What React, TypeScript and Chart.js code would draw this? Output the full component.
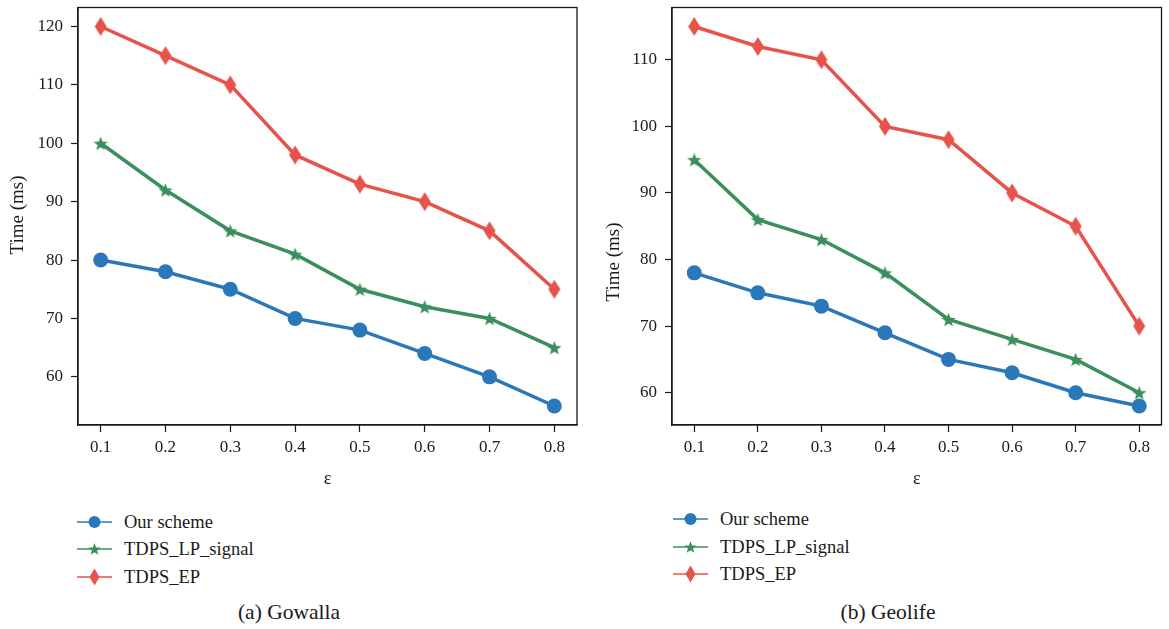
import React, { useEffect, useRef } from "react";
import { Chart, registerables } from "chart.js";

Chart.register(...registerables);

// ---------- data ----------
const epsilonValues = [0.1, 0.2, 0.3, 0.4, 0.5, 0.6, 0.7, 0.8];
const xTickValues = [0.1, 0.2, 0.3, 0.4, 0.5, 0.6, 0.7, 0.8];
const seriesNames = ["Our scheme", "TDPS_LP_signal", "TDPS_EP"];

const gowallaOurScheme = [80, 78, 75, 70, 68, 64, 60, 55];
const gowallaLPSignal = [100, 92, 85, 81, 75, 72, 70, 65];
const gowallaEP = [120, 115, 110, 98, 93, 90, 85, 75];
const gowallaYTicks = [60, 70, 80, 90, 100, 110, 120];

const geolifeOurScheme = [78, 75, 73, 69, 65, 63, 60, 58];
const geolifeLPSignal = [95, 86, 83, 78, 71, 68, 65, 60];
const geolifeEP = [115, 112, 110, 100, 98, 90, 85, 70];
const geolifeYTicks = [60, 70, 80, 90, 100, 110];

const xAxisTitle = "ε";
const yAxisTitle = "Time (ms)";
const captionGowalla = "(a) Gowalla";
const captionGeolife = "(b) Geolife";

// ---------- styles ----------
const COLORS = ["#2a78b9", "#3a8f5c", "#e5534a"];
const FONT = '"Liberation Serif", "DejaVu Serif", serif';
const INK = "#1a1a1a";

function makeStar(color: string, R: number) {
  const r = R * 0.42;
  const size = Math.ceil(2 * R + 2);
  const c = document.createElement("canvas");
  c.width = size;
  c.height = size;
  const ctx = c.getContext("2d")!;
  const cx = size / 2;
  const cy = size / 2 + R * 0.1;
  ctx.beginPath();
  for (let i = 0; i < 10; i++) {
    const rad = i % 2 === 0 ? R : r;
    const a = -Math.PI / 2 + (i * Math.PI) / 5;
    const px = cx + rad * Math.cos(a);
    const py = cy + rad * Math.sin(a);
    if (i === 0) ctx.moveTo(px, py);
    else ctx.lineTo(px, py);
  }
  ctx.closePath();
  ctx.fillStyle = color;
  ctx.fill();
  return c;
}

function makeDiamond(color: string, hw: number, hh: number) {
  const w = Math.ceil(2 * hw + 2);
  const h = Math.ceil(2 * hh + 2);
  const c = document.createElement("canvas");
  c.width = w;
  c.height = h;
  const ctx = c.getContext("2d")!;
  const cx = w / 2;
  const cy = h / 2;
  ctx.beginPath();
  ctx.moveTo(cx, cy - hh);
  ctx.lineTo(cx + hw, cy);
  ctx.lineTo(cx, cy + hh);
  ctx.lineTo(cx - hw, cy);
  ctx.closePath();
  ctx.fillStyle = color;
  ctx.fill();
  return c;
}

const framePlugin = {
  id: "frame",
  afterDraw(chart: any, _args: any, opts: any) {
    const { ctx, chartArea } = chart;
    ctx.save();
    ctx.strokeStyle = INK;
    ctx.lineWidth = 1.3;
    ctx.strokeRect(
      chartArea.left,
      chartArea.top,
      chartArea.right - chartArea.left,
      chartArea.bottom - chartArea.top
    );
    // rotated y-axis title
    if (opts && opts.text) {
      ctx.translate(opts.x, opts.y);
      ctx.rotate(-Math.PI / 2);
      ctx.fillStyle = INK;
      ctx.font = `${opts.size}px ${FONT}`;
      ctx.textAlign = "center";
      ctx.textBaseline = "middle";
      ctx.fillText(opts.text, 0, 0);
    }
    ctx.restore();
  },
};

type PanelProps = {
  left: number;
  width: number;
  height: number;
  yAxisWidth: number;
  padRight: number;
  padTop: number;
  xAxisHeight: number;
  yTitleX: number;
  yTitleY: number;
  series: number[][];
  yTicks: number[];
  yMin: number;
  yMax: number;
};

function Panel(p: PanelProps) {
  const ref = useRef<HTMLCanvasElement>(null);
  useEffect(() => {
    if (!ref.current) return;
    const pointStyles: any[] = [
      "circle",
      makeStar(COLORS[1], 7.5),
      makeDiamond(COLORS[2], 6, 9.5),
    ];
    const tickFont = { family: FONT, size: 17 };
    const gridCommon = {
      display: true,
      drawOnChartArea: false,
      drawTicks: true,
      tickLength: 7,
      tickWidth: 1.2,
      tickColor: INK,
    };
    const chart = new Chart(ref.current, {
      type: "line",
      data: {
        datasets: p.series.map((vals, i) => ({
          label: seriesNames[i],
          data: epsilonValues.map((x, j) => ({ x, y: vals[j] })),
          borderColor: COLORS[i],
          backgroundColor: COLORS[i],
          borderWidth: 3.5,
          pointStyle: pointStyles[i],
          pointRadius: i === 0 ? 7.5 : 7,
          pointBorderWidth: 0,
          pointBackgroundColor: COLORS[i],
          tension: 0,
          clip: false as any,
        })),
      },
      options: {
        animation: false,
        responsive: false,
        devicePixelRatio: 1,
        layout: { padding: { top: p.padTop, right: p.padRight, left: 0, bottom: 0 } },
        plugins: {
          legend: { display: false },
          tooltip: { enabled: false },
          frame: { text: yAxisTitle, x: p.yTitleX, y: p.yTitleY, size: 19 },
        },
        scales: {
          x: {
            type: "linear",
            min: 0.065,
            max: 0.835,
            afterBuildTicks: (s: any) => {
              s.ticks = xTickValues.map((v) => ({ value: v }));
            },
            afterFit: (s: any) => {
              s.height = p.xAxisHeight;
              s.paddingLeft = 0;
              s.paddingRight = 0;
            },
            ticks: {
              font: tickFont,
              color: INK,
              padding: 5,
              maxRotation: 0,
              autoSkip: false,
              callback: (v: any) => Number(v).toFixed(1),
            },
            grid: gridCommon,
            border: { display: true, color: INK, width: 1.3 },
            title: {
              display: true,
              text: xAxisTitle,
              font: { family: FONT, size: 18 },
              color: INK,
              padding: { top: 0, bottom: 10 },
            },
          },
          y: {
            type: "linear",
            min: p.yMin,
            max: p.yMax,
            afterBuildTicks: (s: any) => {
              s.ticks = p.yTicks.map((v) => ({ value: v }));
            },
            afterFit: (s: any) => {
              s.width = p.yAxisWidth;
              s.paddingTop = 0;
              s.paddingBottom = 0;
            },
            ticks: {
              font: tickFont,
              color: INK,
              padding: 8,
              autoSkip: false,
              callback: (v: any) => String(v),
            },
            grid: gridCommon,
            border: { display: true, color: INK, width: 1.3 },
            title: { display: false },
          },
        },
      },
      plugins: [framePlugin],
    } as any);
    return () => chart.destroy();
  }, []);
  return (
    <canvas
      ref={ref}
      width={p.width}
      height={p.height}
      style={{ position: "absolute", left: p.left, top: 0, width: p.width, height: p.height }}
    />
  );
}

function LegendMarker({ i }: { i: number }) {
  const c = COLORS[i];
  const cx = 17.5;
  const cy = 10;
  let shape: any;
  if (i === 0) shape = <circle cx={cx} cy={cy} r={6} fill={c} />;
  else if (i === 1) {
    const R = 6.5;
    const r = R * 0.42;
    const pts: string[] = [];
    for (let k = 0; k < 10; k++) {
      const rad = k % 2 === 0 ? R : r;
      const a = -Math.PI / 2 + (k * Math.PI) / 5;
      pts.push(`${cx + rad * Math.cos(a)},${cy + 0.6 + rad * Math.sin(a)}`);
    }
    shape = <polygon points={pts.join(" ")} fill={c} />;
  } else {
    shape = (
      <polygon
        points={`${cx},${cy - 8.5} ${cx + 5},${cy} ${cx},${cy + 8.5} ${cx - 5},${cy}`}
        fill={c}
      />
    );
  }
  return (
    <svg width={35} height={20} style={{ position: "absolute", left: 0, top: -10 }}>
      <line x1={0} y1={cy} x2={35} y2={cy} stroke={c} strokeWidth={1.5} />
      {shape}
    </svg>
  );
}

function Legend({ left, rows }: { left: number; rows: number[] }) {
  return (
    <>
      {seriesNames.map((name, i) => (
        <div key={name} style={{ position: "absolute", left, top: rows[i], height: 0 }}>
          <LegendMarker i={i} />
          <div
            style={{
              position: "absolute",
              left: 47,
              top: -12,
              fontSize: 18.5,
              lineHeight: "24px",
              whiteSpace: "nowrap",
              color: INK,
            }}
          >
            {name}
          </div>
        </div>
      ))}
    </>
  );
}

function Caption({ cx, cy, text }: { cx: number; cy: number; text: string }) {
  return (
    <div
      style={{
        position: "absolute",
        left: cx - 100,
        width: 200,
        top: cy - 13,
        lineHeight: "26px",
        fontSize: 21.5,
        textAlign: "center",
        color: INK,
      }}
    >
      {text}
    </div>
  );
}

export default function App() {
  return (
    <div
      style={{
        position: "absolute",
        left: 0,
        top: 0,
        width: 1169,
        height: 629,
        background: "#fff",
        fontFamily: FONT,
        overflow: "hidden",
      }}
    >
      <Panel
        left={0}
        width={590}
        height={500}
        yAxisWidth={78}
        padRight={13}
        padTop={6}
        xAxisHeight={75}
        yTitleX={18}
        yTitleY={215}
        series={[gowallaOurScheme, gowallaLPSignal, gowallaEP]}
        yTicks={gowallaYTicks}
        yMin={51.75}
        yMax={123.25}
      />
      <Panel
        left={590}
        width={579}
        height={500}
        yAxisWidth={82}
        padRight={1}
        padTop={6}
        xAxisHeight={75}
        yTitleX={24}
        yTitleY={262}
        series={[geolifeOurScheme, geolifeLPSignal, geolifeEP]}
        yTicks={geolifeYTicks}
        yMin={55.15}
        yMax={117.85}
      />
      <Legend left={77} rows={[522, 549, 577]} />
      <Legend left={673} rows={[519, 547, 574]} />
      <Caption cx={289} cy={612} text={captionGowalla} />
      <Caption cx={888} cy={612} text={captionGeolife} />
    </div>
  );
}
